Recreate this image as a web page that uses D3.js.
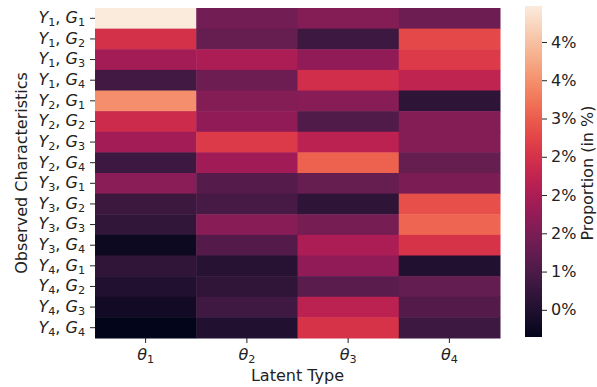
<!DOCTYPE html>
<meta charset="utf-8">
<script src="https://d3js.org/d3.v7.min.js"></script>
<style>
  body { margin: 0; background: #fff; }
  text { font-family: "DejaVu Sans", sans-serif; fill: #222; }
</style>
<div id="chart"></div>
<script>
// rows: observed characteristics (Y, G indexes), columns: latent types
var rowY = [1,1,1,1, 2,2,2,2, 3,3,3,3, 4,4,4,4];
var rowG = [1,2,3,4, 1,2,3,4, 1,2,3,4, 1,2,3,4];
var latentTypes = [1, 2, 3, 4];

// proportion in % per row, one column per latent type
var theta1 = [4.47, 2.48, 1.92, 0.88, 3.48, 2.40, 1.92, 0.84, 1.64, 0.82, 0.71, 0.27, 0.70, 0.51, 0.34, 0.145];
var theta2 = [1.40, 1.27, 2.00, 1.36, 1.58, 1.71, 2.62, 1.88, 1.10, 0.95, 1.62, 1.08, 0.58, 0.69, 0.86, 0.51];
var theta3 = [1.58, 0.84, 1.71, 2.44, 1.62, 1.05, 2.18, 3.05, 1.27, 0.66, 1.44, 2.00, 1.71, 1.14, 2.18, 2.53];
var theta4 = [1.36, 2.79, 2.62, 2.22, 0.67, 1.58, 1.58, 1.27, 1.49, 2.87, 3.09, 2.53, 0.51, 1.25, 1.08, 0.84];

var cbTicks = [0.5, 1.0, 1.5, 2.0, 2.5, 3.0, 3.5, 4.0];

var columns = [theta1, theta2, theta3, theta4];
var cells = [];
columns.forEach(function(col, j) {
  col.forEach(function(v, i) { cells.push({row: i, col: j, v: v}); });
});

// seaborn "rocket" colormap stops
var rocket = d3.interpolateRgbBasis(["#03051a", "#35193e", "#701f57", "#ad1759", "#e13342", "#f37651", "#f6b48f", "#faebdd"]);
var ext = d3.extent(cells, function(d) { return d.v; });
var color = d3.scaleSequential(rocket).domain(ext);

var width = 597, height = 387;
var m = {left: 95, top: 8, right: 500, bottom: 338};
var fs = "16px";

var svg = d3.select("#chart").append("svg").attr("width", width).attr("height", height);

var x = d3.scaleBand().domain(latentTypes).range([m.left, m.right]);
var y = d3.scaleBand().domain(d3.range(rowY.length)).range([m.top, m.bottom]);

svg.selectAll("rect.cell").data(cells).enter().append("rect")
  .attr("class", "cell")
  .attr("x", function(d) { return x(latentTypes[d.col]); })
  .attr("y", function(d) { return y(d.row); })
  .attr("width", x.bandwidth() + 0.5)
  .attr("height", y.bandwidth() + 0.5)
  .attr("fill", function(d) { return color(d.v); });

// y axis
var yAxis = svg.append("g").attr("transform", "translate(" + m.left + ",0)")
  .call(d3.axisLeft(y).tickSize(5).tickFormat(""));
yAxis.select(".domain").remove();
yAxis.selectAll(".tick line").attr("stroke", "#222").attr("stroke-width", 1);
yAxis.selectAll(".tick").each(function(i) {
  var t = d3.select(this).append("text").attr("x", -10).attr("dy", "0.3em")
    .attr("text-anchor", "end").style("font-size", fs);
  t.append("tspan").attr("font-style", "italic").text("Y");
  t.append("tspan").attr("font-size", "11.2px").attr("dy", 3).text(rowY[i]);
  t.append("tspan").attr("dy", -3).text(", ");
  t.append("tspan").attr("font-style", "italic").text("G");
  t.append("tspan").attr("font-size", "11.2px").attr("dy", 3).text(rowG[i]);
});

// x axis
var xAxis = svg.append("g").attr("transform", "translate(0," + m.bottom + ")")
  .call(d3.axisBottom(x).tickSize(5).tickFormat(""));
xAxis.select(".domain").remove();
xAxis.selectAll(".tick line").attr("stroke", "#222");
xAxis.selectAll(".tick").each(function(k) {
  var t = d3.select(this).append("text").attr("y", 22).attr("text-anchor", "middle")
    .style("font-size", fs);
  t.append("tspan").attr("font-style", "italic").text("\u03B8");
  t.append("tspan").attr("font-size", "11.2px").attr("dy", 3).text(k);
});

svg.append("text").attr("x", (m.left + m.right) / 2).attr("y", 381)
  .attr("text-anchor", "middle").style("font-size", fs).text("Latent Type");
svg.append("text").attr("transform", "translate(21," + ((m.top + m.bottom) / 2) + ") rotate(-90)")
  .attr("text-anchor", "middle").attr("dy", "0.35em").style("font-size", fs).text("Observed Characteristics");

// colour bar
var cbX = 525, cbW = 17;
var cbY = d3.scaleLinear().domain(ext).range([m.bottom - 1, m.top - 2]);
var defs = svg.append("defs");
var grad = defs.append("linearGradient").attr("id", "cbgrad")
  .attr("x1", 0).attr("y1", 1).attr("x2", 0).attr("y2", 0);
d3.range(0, 1.0001, 0.05).forEach(function(s) {
  grad.append("stop").attr("offset", s).attr("stop-color", rocket(s));
});
svg.append("rect").attr("x", cbX).attr("y", cbY(ext[1])).attr("width", cbW)
  .attr("height", cbY(ext[0]) - cbY(ext[1])).attr("fill", "url(#cbgrad)");

// labels rounded half-to-even, as the original formatter did
var cbAxis = svg.append("g").attr("transform", "translate(" + (cbX + cbW) + ",0)")
  .call(d3.axisRight(cbY).tickValues(cbTicks).tickSize(5)
    .tickFormat(function(d) { return Math.round(d - (d % 1 === 0.5 && Math.floor(d) % 2 === 0 ? 0.5 : 0)) + "%"; }));
cbAxis.select(".domain").remove();
cbAxis.selectAll(".tick line").attr("stroke", "#222");
cbAxis.selectAll(".tick text").attr("x", 9).style("font-size", fs)
  .style("font-family", "DejaVu Sans, sans-serif").attr("fill", "#222");

svg.append("text").attr("transform", "translate(592.5," + ((m.top + m.bottom) / 2) + ") rotate(-90)")
  .attr("text-anchor", "middle").style("font-size", fs).text("Proportion (in %)");
</script>
